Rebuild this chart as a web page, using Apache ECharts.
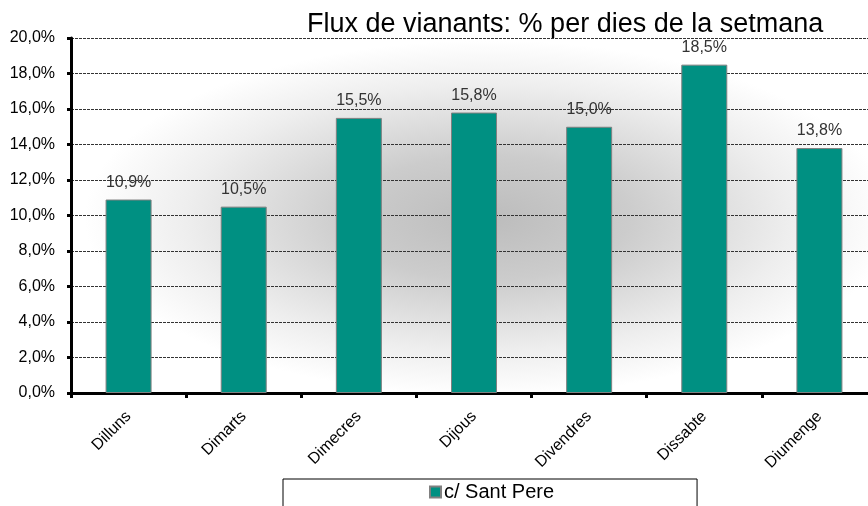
<!DOCTYPE html>
<html>
<head>
<meta charset="utf-8">
<script src="https://cdn.jsdelivr.net/npm/echarts@6/dist/echarts.min.js"></script>
<style>
  html, body { margin: 0; padding: 0; background: #fff; overflow: hidden; }
  #chart { width: 880px; height: 506px; }
</style>
</head>
<body>
<div id="chart"></div>
<script>
// dies de la setmana
const days = ['Dilluns', 'Dimarts', 'Dimecres', 'Dijous', 'Divendres', 'Dissabte', 'Diumenge']
// % vianants c/ Sant Pere
const santPere = [10.9, 10.5, 15.5, 15.8, 15.0, 18.5, 13.8]
const seriesName = 'c/ Sant Pere'

const fmt = v => v.toFixed(1).replace('.', ',') + '%'

const chart = echarts.init(document.getElementById('chart'))

// zona del grafic (surt una mica per la dreta, com l'original)
const gridLeft = 71, gridTop = 38, gridW = 806, gridH = 355

const option = {
  animation: false,
  textStyle: { fontFamily: 'Liberation Sans, Arial, sans-serif' },
  title: {
    text: 'Flux de vianants: % per dies de la setmana',
    left: 307,
    top: 11,
    padding: 0,
    textStyle: { fontSize: 27, fontWeight: 'normal', color: '#000' }
  },
  // fons amb degradat radial (el·lipse)
  graphic: {
    z: -10,
    elements: [
      {
        type: 'rect',
        x: gridLeft,
        y: gridTop,
        scaleX: gridW / gridH,
        shape: { x: 0, y: 0, width: gridH, height: gridH },
        silent: true,
        style: {
          fill: new echarts.graphic.RadialGradient(0.517, 0.507, 0.5, [
            { offset: 0, color: '#bcbcbc' },
            { offset: 0.35, color: '#cccccc' },
            { offset: 0.75, color: '#eeeeee' },
            { offset: 1, color: '#ffffff' }
          ])
        }
      }
    ]
  },
  legend: {
    data: [seriesName],
    left: 283,
    top: 479,
    padding: [3, 143, 20, 146],
    borderColor: '#000',
    borderWidth: 1,
    backgroundColor: '#fff',
    itemWidth: 11,
    itemHeight: 11,
    itemGap: 4,
    icon: 'rect',
    textStyle: { fontSize: 20, color: '#000', padding: [0, 0, 0, -2] }
  },
  grid: {
    left: gridLeft,
    top: gridTop,
    width: gridW,
    height: gridH,
    containLabel: false
  },
  xAxis: {
    type: 'category',
    data: days,
    axisLine: { lineStyle: { color: '#000', width: 3 } },
    axisTick: { show: true, length: 5, lineStyle: { color: '#000', width: 3 } },
    axisLabel: { rotate: 45, fontSize: 16, color: '#000', margin: 21 }
  },
  yAxis: {
    type: 'value',
    min: 0,
    max: 20,
    interval: 2,
    axisLine: { show: true, lineStyle: { color: '#000', width: 3 } },
    axisTick: { show: true, length: 4, lineStyle: { color: '#000', width: 3 } },
    axisLabel: { fontSize: 16, color: '#000', margin: 16, formatter: fmt },
    splitLine: { show: true, lineStyle: { color: '#333', width: 1, type: [3, 1] } }
  },
  series: [
    {
      name: seriesName,
      type: 'bar',
      data: santPere,
      barWidth: 46,
      itemStyle: { color: '#009082', borderColor: '#808080', borderWidth: 1 },
      label: {
        show: true,
        position: 'top',
        distance: 9,
        fontSize: 16,
        color: '#333',
        formatter: p => fmt(p.value)
      }
    }
  ]
}

chart.setOption(option)
</script>
</body>
</html>
